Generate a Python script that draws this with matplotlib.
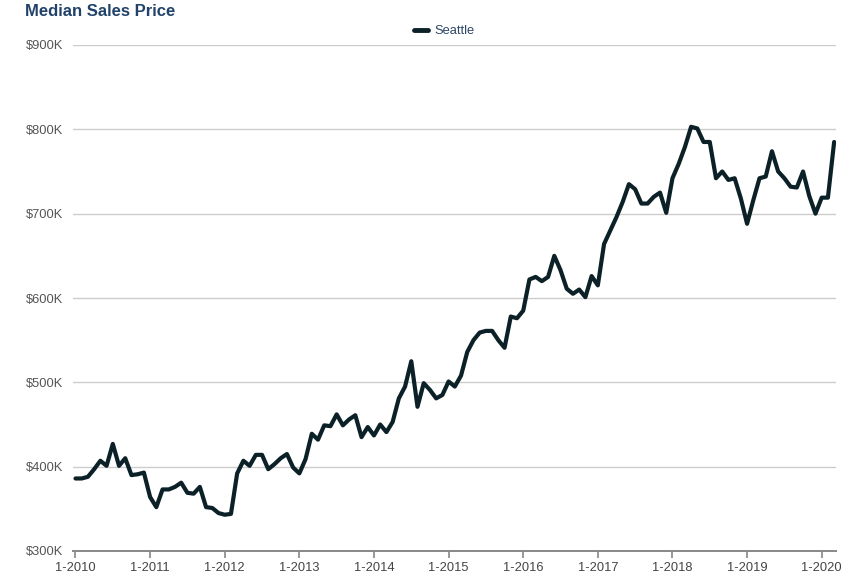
import numpy as np
import matplotlib
matplotlib.use("Agg")
import matplotlib.pyplot as plt

# --------------------------------------------------------------
# Data (monthly median sales price, $K, Jan 2010 - Mar 2020)
# --------------------------------------------------------------

series_name = "Seattle"
start_year = 2010

price_k = [
    386, 386, 388, 397, 407, 401, 427, 401, 410, 390, 391, 393,   # 2010
    364, 352, 373, 373, 376, 381, 369, 368, 376, 352, 351, 345,   # 2011
    343, 344, 392, 407, 401, 414, 414, 397, 403, 410, 415, 399,   # 2012
    392, 409, 439, 432, 449, 448, 462, 449, 456, 461, 435, 447,   # 2013
    437, 450, 441, 453, 481, 495, 525, 471, 499, 491, 481, 485,   # 2014
    501, 495, 508, 536, 550, 559, 561, 561, 550, 541, 578, 576,   # 2015
    585, 622, 625, 620, 625, 650, 633, 611, 605, 610, 601, 626,   # 2016
    615, 664, 680, 696, 714, 735, 729, 712, 712, 720, 725, 701,   # 2017
    742, 759, 779, 803, 801, 785, 785, 742, 750, 740, 742, 718,   # 2018
    688, 716, 742, 744, 774, 750, 742, 732, 731, 750, 721, 700,   # 2019
    719, 719, 785,                                                # 2020
]

y_ticks = [300, 400, 500, 600, 700, 800, 900]
y_tick_labels = ["$300K", "$400K", "$500K", "$600K", "$700K", "$800K", "$900K"]
x_tick_labels = [f"1-{y}" for y in range(2010, 2021)]

# --------------------------------------------------------------
# Plot
# --------------------------------------------------------------

plt.rcParams["font.family"] = ["Liberation Sans", "DejaVu Sans"]

fig = plt.figure(figsize=(8.64, 5.76), dpi=100)
ax = fig.add_axes([73 / 864, 1 - 551 / 576, (836 - 73) / 864, (551 - 45) / 576])

months = np.arange(len(price_k))
line, = ax.plot(months, price_k, color="#0c2127", linewidth=3.0,
                solid_joinstyle="round", solid_capstyle="round", label=series_name)

ax.set_xlim(-0.4, 122.3)
ax.set_ylim(300, 900)

ax.set_yticks(y_ticks)
ax.set_yticklabels(y_tick_labels)
ax.set_xticks(np.arange(0, 121, 12))
ax.set_xticklabels(x_tick_labels)

ax.grid(axis="y", color="#cccccc", linewidth=1.0)
ax.set_axisbelow(True)

for side in ["top", "right", "left"]:
    ax.spines[side].set_visible(False)
ax.spines["bottom"].set_color("#888888")
ax.spines["bottom"].set_linewidth(1.4)

ax.tick_params(axis="y", length=0, pad=7, labelsize=9.3, labelcolor="#555555")
ax.tick_params(axis="x", length=5, width=1.2, color="#888888", pad=3,
               labelsize=9.3, labelcolor="#444444")

fig.text(25 / 864, 1 - 12 / 576, "Median Sales Price", fontsize=12,
         fontweight="bold", color="#21426a", ha="left", va="center")

leg = fig.legend(handles=[line], loc="center", bbox_to_anchor=(444 / 864, 1 - 31 / 576),
                 frameon=False, fontsize=9.3, handlelength=1.1, handletextpad=0.5)
for t in leg.get_texts():
    t.set_color("#2d4566")
leg.get_lines()[0].set_linewidth(3.5)

fig.savefig("out.png", dpi=100)
